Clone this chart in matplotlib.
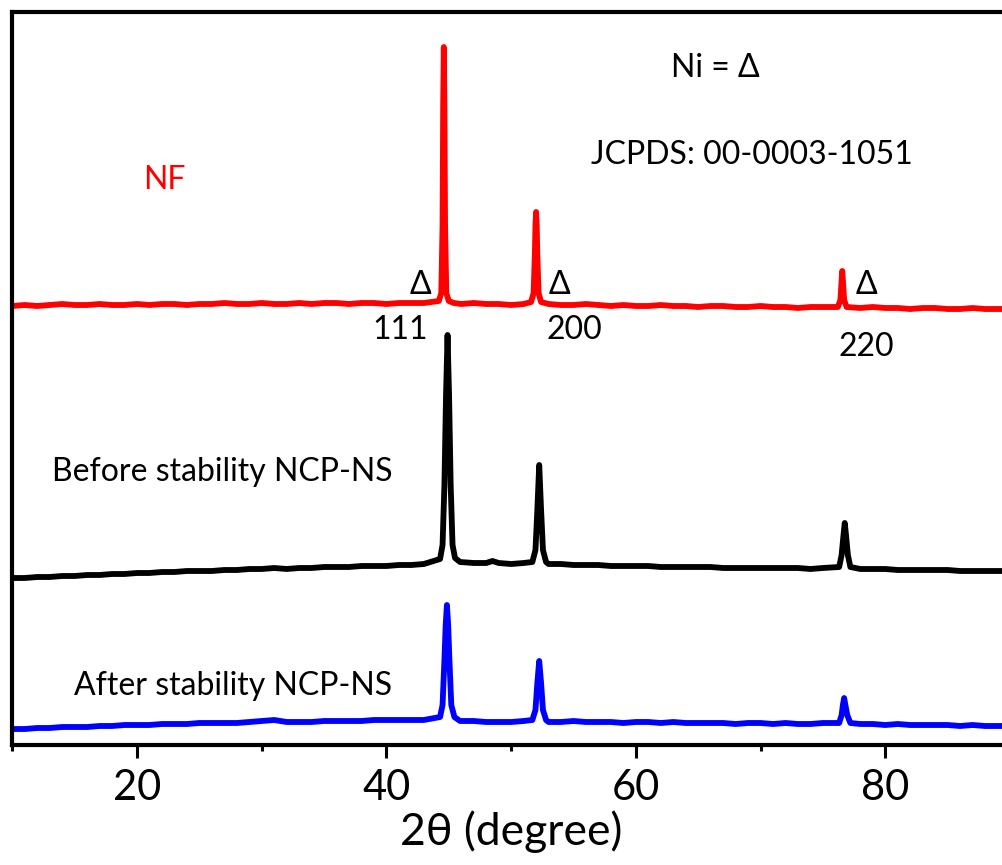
import matplotlib
matplotlib.use("Agg")
import matplotlib.pyplot as plt

plt.rcParams['font.family'] = ['Lato', 'DejaVu Sans']

# --- data (intensity in arbitrary units, traces already offset) ---
nf_x = [10, 11, 12, 13, 14, 15, 16, 17, 18, 19, 20, 21, 22, 23, 24, 25, 26, 27, 28, 29, 30, 31, 32, 33,
        34, 35, 36, 37, 38, 39, 40, 41, 42, 43,
        44.2, 44.4, 44.5, 44.55, 44.6, 44.65, 44.7, 44.8, 45.0, 45.4,
        46, 47, 48, 49, 50, 51,
        51.6, 51.8, 51.9, 51.95, 52.0, 52.05, 52.1, 52.2, 52.4,
        53, 54, 55, 56, 57, 58, 59, 60, 61, 62, 63, 64, 65, 66, 67, 68, 69, 70, 71, 72, 73, 74, 75,
        76.2, 76.4, 76.5, 76.55, 76.6, 76.7, 76.9,
        78, 79, 80, 81, 82, 83, 84, 85, 86, 87, 88, 89, 90]
nf_y = [439, 440, 439, 440, 441, 440, 440, 441, 440, 440, 441, 440, 441, 441, 440, 441, 441, 442, 441, 441,
        442, 441, 441, 442, 441, 442, 442, 441, 442, 442, 441, 442, 442, 442,
        444, 452, 520, 640, 698, 640, 520, 452, 444, 442,
        441, 442, 441, 441, 440, 441,
        443, 452, 490, 520, 533, 520, 490, 452, 443,
        441, 440, 440, 441, 440, 439, 440, 439, 439, 440, 439, 439, 438, 439, 439, 438, 438, 439, 438, 438,
        437, 438, 438,
        438, 445, 465, 474, 465, 445, 438,
        437, 438, 437, 437, 436, 437, 437, 436, 436, 437, 436, 436, 436]

before_x = [10, 11, 12, 13, 14, 15, 16, 17, 18, 19, 20, 21, 22, 23, 24, 25, 26, 27, 28, 29, 30, 31, 32, 33,
            34, 35, 36, 37, 38, 39, 40, 41, 42, 43,
            44.3, 44.5, 44.65, 44.78, 44.9, 45.02, 45.15, 45.3, 45.5, 45.9,
            47, 48, 48.5, 49, 50, 51,
            51.7, 51.95, 52.1, 52.25, 52.4, 52.55, 52.8,
            53, 54, 55, 56, 57, 58, 59, 60, 61, 62, 63, 64, 65, 66, 67, 68, 69, 70, 71, 72, 73, 74, 75,
            76.3, 76.5, 76.65, 76.75, 76.85, 77.0, 77.2,
            78, 79, 80, 81, 82, 83, 84, 85, 86, 87, 88, 89, 90]
before_y = [167, 167, 168, 168, 169, 169, 170, 170, 171, 171, 172, 172, 173, 173, 174, 174, 174, 175, 175, 176,
            176, 177, 176, 177, 177, 178, 178, 178, 179, 179, 179, 180, 180, 181,
            186, 200, 260, 350, 410, 350, 260, 200, 187, 183,
            182, 182, 184, 182, 181, 182,
            183, 195, 235, 280, 235, 195, 183,
            181, 181, 180, 180, 180, 179, 179, 179, 179, 178, 178, 178, 178, 178, 177, 177, 177, 177, 177, 177,
            177, 176, 177,
            178, 190, 210, 222, 210, 190, 178,
            176, 176, 176, 175, 175, 175, 175, 175, 174, 174, 174, 174, 174]

after_x = [10, 11, 12, 13, 14, 15, 16, 17, 18, 19, 20, 21, 22, 23, 24, 25, 26, 27, 28, 29, 30, 31, 32, 33,
           34, 35, 36, 37, 38, 39, 40, 41, 42, 43,
           44.3, 44.5, 44.65, 44.75, 44.85, 44.95, 45.05, 45.2, 45.45, 45.9,
           47, 48, 49, 50, 51,
           51.7, 51.95, 52.1, 52.25, 52.4, 52.55, 52.8,
           53, 54, 55, 56, 57, 58, 59, 60, 61, 62, 63, 64, 65, 66, 67, 68, 69, 70, 71, 72, 73, 74, 75,
           76.3, 76.5, 76.6, 76.7, 76.8, 76.95, 77.2,
           78, 79, 80, 81, 82, 83, 84, 85, 86, 87, 88, 89, 90]
after_y = [16, 16, 17, 17, 18, 18, 18, 19, 19, 20, 20, 20, 21, 21, 21, 22, 22, 22, 22, 23,
           24, 25, 23, 23, 23, 24, 24, 24, 24, 25, 25, 25, 25, 25,
           28, 40, 85, 120, 140, 120, 85, 40, 28, 24,
           24, 23, 23, 23, 24,
           25, 35, 62, 84, 62, 35, 25,
           23, 23, 24, 23, 23, 23, 22, 23, 23, 22, 23, 22, 22, 22, 22, 21, 22, 22, 21, 22,
           21, 21, 22,
           22, 30, 40, 47, 40, 30, 22,
           21, 21, 20, 21, 20, 20, 20, 20, 19, 20, 19, 19, 19]

xticks_major = [20, 40, 60, 80]
xticks_minor = [10, 30, 50, 70, 90]

W, H = 1003, 865
fig = plt.figure(figsize=(W / 100, H / 100), dpi=100)
ax = fig.add_axes([12.3 / W, 1 - 745 / H, 997.7 / W, (745 - 12) / H])

lw = 4.2
ax.plot(after_x, after_y, color='#0000ff', lw=lw, solid_joinstyle='round')
ax.plot(before_x, before_y, color='black', lw=lw, solid_joinstyle='round')
ax.plot(nf_x, nf_y, color='#ff0000', lw=lw, solid_joinstyle='round')

ax.set_xlim(10, 90)
ax.set_ylim(0, 733)
ax.set_yticks([])
ax.set_xticks(xticks_major)
ax.set_xticks(xticks_minor, minor=True)
ax.tick_params(axis='x', which='major', length=9, width=2.2, labelsize=30, pad=8)
ax.tick_params(axis='x', which='minor', length=4.5, width=2.2)
for s in ax.spines.values():
    s.set_linewidth(3)
ax.set_xlabel('2θ (degree)', fontsize=32, labelpad=3)

fs = 23
ax.text(22.2, 565, 'NF', color='#ff0000', fontsize=fs, ha='center', va='center')
ax.text(66.35, 677, 'Ni = Δ', fontsize=fs, ha='center', va='center')
ax.text(69.3, 590, 'JCPDS: 00-0003-1051', fontsize=fs, ha='center', va='center')
ax.text(42.7, 460, 'Δ', fontsize=fs, ha='center', va='center')
ax.text(53.9, 460, 'Δ', fontsize=fs, ha='center', va='center')
ax.text(78.5, 460, 'Δ', fontsize=fs, ha='center', va='center')
ax.text(41.1, 415, '111', fontsize=fs, ha='center', va='center')
ax.text(55.1, 415, '200', fontsize=fs, ha='center', va='center')
ax.text(78.5, 398, '220', fontsize=fs, ha='center', va='center')
ax.text(26.8, 273, 'Before stability NCP-NS', fontsize=fs, ha='center', va='center')
ax.text(27.7, 59, 'After stability NCP-NS', fontsize=fs, ha='center', va='center')

fig.savefig('out.png', dpi=100)
